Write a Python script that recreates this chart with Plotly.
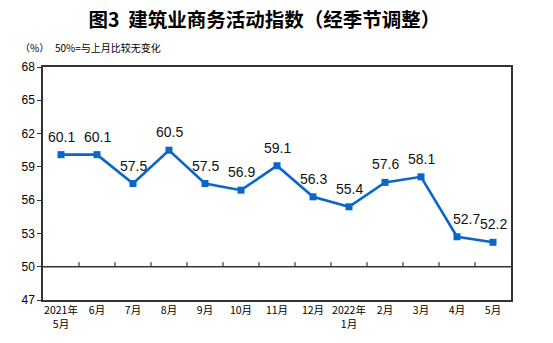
import plotly.graph_objects as go

# Monthly construction business activity index (seasonally adjusted)
months = ["2021年<br>5月", "6月", "7月", "8月", "9月", "10月", "11月", "12月",
          "2022年<br>1月", "2月", "3月", "4月", "5月"]
index_values = [60.1, 60.1, 57.5, 60.5, 57.5, 56.9, 59.1, 56.3, 55.4, 57.6, 58.1, 52.7, 52.2]
y_ticks = [47, 50, 53, 56, 59, 62, 65, 68]
BASELINE = 50

BLUE = "#0a66c8"
AXIS = "#333333"
CJK = "Noto Sans CJK SC"
LATIN = "Liberation Sans, Arial"

fig = go.Figure()
fig.add_trace(go.Scatter(
    x=list(range(len(months))), y=index_values, mode="lines+markers",
    line=dict(color=BLUE, width=2.6),
    marker=dict(symbol="square", size=7, color=BLUE),
    hoverinfo="skip", showlegend=False,
))

# value labels above each point
label_shift = {11: 9}
for i, v in enumerate(index_values):
    fig.add_annotation(
        x=i, y=v, text=f"{v:.1f}", showarrow=False,
        yshift=18, xshift=label_shift.get(i, 0),
        font=dict(family=LATIN, size=14, color="#111111"),
    )

# 50% reference line with small upward ticks between months
fig.add_shape(type="line", xref="x", yref="y", x0=-0.5, x1=len(months) - 0.5,
              y0=BASELINE, y1=BASELINE, line=dict(color=AXIS, width=1.5))
for k in range(1, len(months)):
    fig.add_shape(type="line", xref="x", yref="y", x0=k - 0.5, x1=k - 0.5,
                  y0=BASELINE, y1=BASELINE + 0.4, line=dict(color=AXIS, width=1.2))

fig.update_layout(
    width=553, height=343,
    margin=dict(l=43, r=42, t=67, b=43),
    paper_bgcolor="white", plot_bgcolor="white",
    title=dict(
        text="<b>图3  建筑业商务活动指数（经季节调整）</b>",
        x=0.478, xanchor="center", y=0.942, yanchor="middle",
        font=dict(family=CJK, size=19.5, color="#000000"),
    ),
    xaxis=dict(
        range=[-0.5, len(months) - 0.5],
        tickvals=list(range(len(months))), ticktext=months,
        showline=True, linecolor=AXIS, linewidth=1.5, mirror=True,
        ticks="", showgrid=False, zeroline=False,
        tickfont=dict(family=CJK, size=10.5, color="#000000"),
    ),
    yaxis=dict(
        range=[47, 68], tickvals=y_ticks,
        showline=True, linecolor=AXIS, linewidth=1.5, mirror=True,
        ticks="outside", ticklen=4, tickcolor=AXIS, tickwidth=1.2,
        showgrid=False, zeroline=False,
        tickfont=dict(family=LATIN, size=12, color="#000000"),
    ),
)

fig.add_annotation(
    xref="paper", yref="paper", x=-25 / 468, y=1 + 20 / 233,
    text="（%）", showarrow=False, xanchor="left", yanchor="middle",
    font=dict(family=CJK, size=10, color="#000000"),
)
fig.add_annotation(
    xref="paper", yref="paper", x=10 / 468, y=1 + 20 / 233,
    text="50%=与上月比较无变化", showarrow=False, xanchor="left", yanchor="middle",
    font=dict(family=CJK, size=10, color="#000000"),
)

fig.write_html("out.html")
